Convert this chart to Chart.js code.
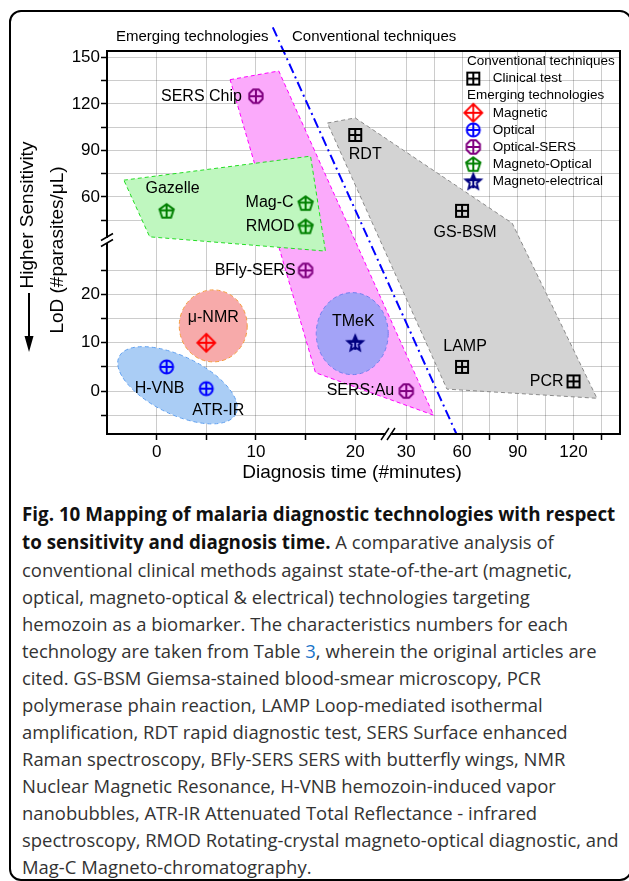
<!DOCTYPE html>
<html>
<head>
<meta charset="utf-8">
<script src="https://cdn.jsdelivr.net/npm/chart.js@4.4.0/dist/chart.umd.min.js"></script>
<style>
html, body { margin: 0; padding: 0; background: #fff; }
body { width: 629px; height: 881px; position: relative; overflow: hidden; }
#frame { position: absolute; left: 9px; top: 10px; width: 623px; height: 871px; box-sizing: border-box; border: 2px solid #000; border-radius: 12px; }
#mapChart { position: absolute; left: 0; top: 0; }
#caption { position: absolute; left: 22px; top: 500px; font-family: 'Open Sans', sans-serif; font-size: 18.45px; line-height: 27px; color: #333; white-space: nowrap; }
#caption b { color: #111; font-size: 18.8px; }
#caption .ref { color: #1a73c8; }
</style>
</head>
<body>
<div id="frame"></div>
<canvas id="mapChart" width="629" height="490"></canvas>
<div id="caption">
<b>Fig. 10 Mapping of malaria diagnostic technologies with respect</b><br>
<b>to sensitivity and diagnosis time.</b> A comparative analysis of<br>
conventional clinical methods against state-of-the-art (magnetic,<br>
optical, magneto-optical &amp; electrical) technologies targeting<br>
hemozoin as a biomarker. The characteristics numbers for each<br>
technology are taken from Table <span class="ref">3</span>, wherein the original articles are<br>
cited. GS-BSM Giemsa-stained blood-smear microscopy, PCR<br>
polymerase phain reaction, LAMP Loop-mediated isothermal<br>
amplification, RDT rapid diagnostic test, SERS Surface enhanced<br>
Raman spectroscopy, BFly-SERS SERS with butterfly wings, NMR<br>
Nuclear Magnetic Resonance, H-VNB hemozoin-induced vapor<br>
nanobubbles, ATR-IR Attenuated Total Reflectance - infrared<br>
spectroscopy, RMOD Rotating-crystal magneto-optical diagnostic, and<br>
Mag-C Magneto-chromatography.
</div>
<script>
// Datos (tiempo en minutos, LoD en parasitos/uL)
const xMajor = [0, 10, 20, 30, 60, 90, 120];
const xGrid = [0, 5, 10, 15, 20, 30, 45, 60, 75, 90, 105, 120, 135];
const yMajor = [0, 10, 20, 60, 90, 120, 150];
const yGrid = [-5, 0, 5, 10, 15, 20, 25, 45, 60, 75, 90, 105, 120, 135, 150];

const clinicalNames = ['RDT', 'GS-BSM', 'LAMP', 'PCR'];
const clinicalTime = [20, 60, 60, 120];
const clinicalLod = [100, 51, 5, 2];

const magneticNames = ['\u03bc-NMR'];
const magneticTime = [5];
const magneticLod = [10];

const opticalNames = ['H-VNB', 'ATR-IR'];
const opticalTime = [1, 5];
const opticalLod = [5, 0.5];

const sersNames = ['SERS Chip', 'BFly-SERS', 'SERS:Au'];
const sersTime = [10, 15, 30];
const sersLod = [125, 25, 0];

const magOptNames = ['Gazelle', 'Mag-C', 'RMOD'];
const magOptTime = [1, 15, 15];
const magOptLod = [51, 56, 41];

const magElecNames = ['TMeK'];
const magElecTime = [20];
const magElecLod = [10];

// zonas sombreadas (vertices)
const clinicalZoneTime = [17.2, 20.0, 87.0, 132.6, 51.9];
const clinicalZoneLod = [107.7, 111.0, 43.0, -1.5, 0.4];
const sersZoneTime = [7.4, 12.3, 44.7, 16.0];
const sersZoneLod = [135.7, 141.3, -5.0, 3.8];
const magOptZoneTime = [-3.3, 15.5, 17.0, -0.7];
const magOptZoneLod = [70.8, 86.3, 29.0, 34.2];

// elipses: centro
const blobNames = ['Optical', 'Magnetic', 'Magneto-electrical'];
const blobTime = [2.1, 5.7, 19.7];
const blobLod = [1.2, 13.5, 11.9];

// linea divisoria emergentes / convencionales
const dividerTime = [11.7, 56.9];
const dividerLod = [169.5, -8.8];

// ejes cortados
function toU(x) { return x <= 24 ? x : 25.14 + (x - 30) * 0.1872; }
function toV(y) { return y <= 30.9 ? y : 40.23 + (y - 60) * 0.3209; }

function pts(xs, ys, close) {
    const out = xs.map((x, i) => ({ x: toU(x), y: toV(ys[i]) }));
    if (close) out.push(out[0]);
    return out;
}

const FONT = "'Liberation Sans', Arial, sans-serif";

function makeMarker(kind, color) {
    const c = document.createElement('canvas');
    c.width = 22; c.height = 22;
    const g = c.getContext('2d');
    g.translate(11, 11);
    g.strokeStyle = color;
    g.lineWidth = 2;
    g.beginPath();
    if (kind === 'square') {
        g.rect(-6, -6, 12, 12);
        g.moveTo(0, -6); g.lineTo(0, 6); g.moveTo(-6, 0); g.lineTo(6, 0);
    } else if (kind === 'diamond') {
        g.lineWidth = 1.8;
        g.moveTo(0, -9); g.lineTo(9, 0); g.lineTo(0, 9); g.lineTo(-9, 0); g.closePath();
        g.moveTo(0, -9); g.lineTo(0, 9); g.moveTo(-9, 0); g.lineTo(9, 0);
    } else if (kind === 'circle') {
        g.arc(0, 0, 6.5, 0, Math.PI * 2);
        g.moveTo(0, -6.5); g.lineTo(0, 6.5); g.moveTo(-6.5, 0); g.lineTo(6.5, 0);
    } else if (kind === 'octagon') {
        for (let k = 0; k < 8; k++) {
            const a = Math.PI / 8 + k * Math.PI / 4;
            const px = 7.2 * Math.cos(a), py = 7.2 * Math.sin(a);
            if (k === 0) g.moveTo(px, py); else g.lineTo(px, py);
        }
        g.closePath();
        g.moveTo(0, -6.8); g.lineTo(0, 6.8); g.moveTo(-6.8, 0); g.lineTo(6.8, 0);
    } else if (kind === 'pentagon') {
        for (let k = 0; k < 5; k++) {
            const a = -Math.PI / 2 + k * 2 * Math.PI / 5;
            const px = 7.5 * Math.cos(a), py = 7.5 * Math.sin(a) + 0.8;
            if (k === 0) g.moveTo(px, py); else g.lineTo(px, py);
        }
        g.closePath();
        g.moveTo(0, -6.7); g.lineTo(0, 6.9); g.moveTo(-7.1, -0.5); g.lineTo(7.1, -0.5);
    } else if (kind === 'star') {
        for (let k = 0; k < 10; k++) {
            const r = k % 2 ? 3.6 : 8;
            const a = -Math.PI / 2 + k * Math.PI / 5;
            const px = r * Math.cos(a), py = r * Math.sin(a) + 0.8;
            if (k === 0) g.moveTo(px, py); else g.lineTo(px, py);
        }
        g.closePath();
        g.moveTo(0, -7); g.lineTo(0, 7); g.moveTo(-7, -1); g.lineTo(7, -1);
    }
    g.stroke();
    return c;
}

// posicion de cada etiqueta respecto a su marcador
const labelPos = {
    'RDT': [10, 20, 'center'], 'GS-BSM': [3, 22, 'center'], 'LAMP': [3, -20, 'center'],
    'PCR': [-10, 0, 'right'], '\u03bc-NMR': [7, -25, 'center'], 'H-VNB': [-7, 22, 'center'],
    'ATR-IR': [12, 22, 'center'], 'SERS Chip': [-14, 0, 'right'], 'BFly-SERS': [-10, 0, 'right'],
    'SERS:Au': [-12, 0, 'right'], 'Gazelle': [6, -22, 'center'], 'Mag-C': [-12, 0, 'right'],
    'RMOD': [-11, 0, 'right'], 'TMeK': [-2, -21, 'center']
};

// estilo de las elipses: semiejes en px, giro, color
const blobStyle = {
    'Optical': { a: 65, b: 29, rot: 26, fill: '#aacdf5', stroke: '#5fa0f0' },
    'Magnetic': { a: 34, b: 36, rot: 0, fill: '#f7aaaa', stroke: '#f59a3c' },
    'Magneto-electrical': { a: 36, b: 41, rot: 0, fill: '#a3a3f7', stroke: '#6f7ff0' }
};

function markerSet(label, names, xs, ys, kind, color) {
    return {
        label: label, names: names, isMarker: true,
        data: pts(xs, ys, false),
        showLine: false,
        pointStyle: makeMarker(kind, color),
        pointRadius: 8,
        order: 1
    };
}

function zoneSet(label, xs, ys, fill, stroke, order) {
    return {
        label: label, data: pts(xs, ys, true),
        showLine: true, fill: 'shape', backgroundColor: fill,
        borderColor: stroke, borderWidth: 1, borderDash: [4, 3],
        pointRadius: 0, tension: 0, order: order
    };
}

const legendRows = [
    { text: 'Conventional techniques' },
    { set: 0 },
    { text: 'Emerging technologies' },
    { set: 1 }, { set: 2 }, { set: 3 }, { set: 4 }, { set: 5 }
];

const extras = {
    id: 'extras',
    beforeDatasetDraw(chart, args) {
        const ds = chart.data.datasets[args.index];
        if (ds.label !== 'divider') return;
        const ctx = chart.ctx, xs = chart.scales.x, ys = chart.scales.y;
        ctx.save();
        blobNames.forEach((n, i) => {
            const st = blobStyle[n];
            const cx = xs.getPixelForValue(toU(blobTime[i]));
            const cy = ys.getPixelForValue(toV(blobLod[i]));
            ctx.beginPath();
            ctx.ellipse(cx, cy, st.a, st.b, st.rot * Math.PI / 180, 0, Math.PI * 2);
            ctx.fillStyle = st.fill;
            ctx.fill();
            ctx.setLineDash([4, 3]);
            ctx.lineWidth = 1;
            ctx.strokeStyle = st.stroke;
            ctx.stroke();
        });
        ctx.restore();
    },
    afterDraw(chart) {
        const ctx = chart.ctx, a = chart.chartArea;
        ctx.save();
        // marco
        ctx.strokeStyle = '#000';
        ctx.lineWidth = 2;
        ctx.strokeRect(a.left, a.top, a.right - a.left, a.bottom - a.top);

        // cortes de eje
        const yb = 240, xb = 388;
        ctx.fillStyle = '#fff';
        ctx.fillRect(a.left - 3, yb - 2, 6, 5);
        ctx.fillRect(xb - 2.5, a.bottom - 3, 5, 6);
        ctx.lineWidth = 1.5;
        ctx.beginPath();
        [-3, 3].forEach(d => {
            ctx.moveTo(a.left - 6, yb + d + 3.5); ctx.lineTo(a.left + 6, yb + d - 3.5);
            ctx.moveTo(xb + d - 4, a.bottom + 6); ctx.lineTo(xb + d + 4, a.bottom - 6);
        });
        ctx.stroke();

        // textos de cabecera y titulos
        ctx.fillStyle = '#000';
        ctx.textBaseline = 'middle';
        ctx.font = '15px ' + FONT;
        ctx.textAlign = 'left';
        ctx.fillText('Emerging technologies', 116, 37);
        ctx.fillText('Conventional techniques', 292, 37);

        ctx.font = '19px ' + FONT;
        ctx.textAlign = 'center';
        ctx.fillText('Diagnosis time (#minutes)', 352, 473);
        ctx.save();
        ctx.translate(58, 250);
        ctx.rotate(-Math.PI / 2);
        ctx.fillText('LoD (#parasites/\u03bcL)', 0, 0);
        ctx.restore();
        ctx.save();
        ctx.translate(28, 215);
        ctx.rotate(-Math.PI / 2);
        ctx.fillText('Higher Sensitivity', 0, 0);
        ctx.restore();
        // flecha
        ctx.lineWidth = 2;
        ctx.beginPath();
        ctx.moveTo(29, 293); ctx.lineTo(29, 340);
        ctx.stroke();
        ctx.beginPath();
        ctx.moveTo(24.5, 336); ctx.lineTo(33.5, 336); ctx.lineTo(29, 352); ctx.closePath();
        ctx.fill();

        // etiquetas de puntos
        ctx.font = '16px ' + FONT;
        chart.data.datasets.forEach((ds, i) => {
            if (!ds.isMarker) return;
            const meta = chart.getDatasetMeta(i);
            meta.data.forEach((pt, j) => {
                const n = ds.names[j];
                const p = labelPos[n];
                ctx.textAlign = p[2];
                ctx.fillText(n, pt.x + p[0], pt.y + p[1]);
            });
        });

        // leyenda
        const lx = a.right - 153, ly = a.top + 10.5;
        ctx.font = '13.5px ' + FONT;
        ctx.textAlign = 'left';
        legendRows.forEach((r, k) => {
            const y = ly + k * 17.1;
            if (r.text) {
                ctx.fillText(r.text, lx, y);
            } else {
                const ds = chart.data.datasets[r.set];
                ctx.drawImage(ds.pointStyle, lx + 6.3 - 11, y - 11);
                ctx.fillText(ds.label, lx + 25.7, y);
            }
        });
        ctx.restore();
    }
};

const tickFont = { family: FONT, size: 17 };

new Chart(document.getElementById('mapChart'), {
    type: 'line',
    data: {
        datasets: [
            markerSet('Clinical test', clinicalNames, clinicalTime, clinicalLod, 'square', '#000000'),
            markerSet('Magnetic', magneticNames, magneticTime, magneticLod, 'diamond', '#ff0000'),
            markerSet('Optical', opticalNames, opticalTime, opticalLod, 'circle', '#0000ff'),
            markerSet('Optical-SERS', sersNames, sersTime, sersLod, 'octagon', '#800080'),
            markerSet('Magneto-Optical', magOptNames, magOptTime, magOptLod, 'pentagon', '#008000'),
            markerSet('Magneto-electrical', magElecNames, magElecTime, magElecLod, 'star', '#000080'),
            {
                label: 'divider', data: pts(dividerTime, dividerLod, false),
                borderColor: '#0000ff', borderWidth: 2, borderDash: [10, 4, 2, 4],
                pointRadius: 0, fill: false, clip: false, order: 2
            },
            zoneSet('Magneto-Optical zone', magOptZoneTime, magOptZoneLod, '#bff7bf', '#22dd22', 3),
            zoneSet('Optical-SERS zone', sersZoneTime, sersZoneLod, '#fbaafb', '#ff00ff', 4),
            zoneSet('Clinical zone', clinicalZoneTime, clinicalZoneLod, '#d3d3d3', '#8a8a8a', 5)
        ]
    },
    options: {
        responsive: false,
        animation: false,
        events: [],
        layout: { padding: { left: 0, top: 51, right: 9, bottom: 0 } },
        plugins: { legend: { display: false }, tooltip: { enabled: false } },
        scales: {
            x: {
                type: 'linear', min: -5, max: toU(145), z: 1,
                afterBuildTicks: s => { s.ticks = xGrid.map(v => ({ value: toU(v) })); },
                afterFit: s => { s.height = 56; },
                ticks: {
                    autoSkip: false, maxRotation: 0, padding: 2, color: '#000', font: tickFont,
                    callback: (v, i) => xMajor.includes(xGrid[i]) ? String(xGrid[i]) : ''
                },
                grid: { color: 'rgba(0,0,0,0.2)', lineWidth: 1, tickLength: 6, tickColor: '#000', tickWidth: 1.5 },
                border: { color: '#000', width: 2 }
            },
            y: {
                type: 'linear', min: -8.9, max: 70.46, z: 1,
                afterBuildTicks: s => { s.ticks = yGrid.map(v => ({ value: toV(v) })); },
                afterFit: s => { s.width = 107; },
                ticks: {
                    autoSkip: false, padding: 1, color: '#000', font: tickFont,
                    callback: (v, i) => yMajor.includes(yGrid[i]) ? String(yGrid[i]) : ''
                },
                grid: { color: 'rgba(0,0,0,0.2)', lineWidth: 1, tickLength: 6, tickColor: '#000', tickWidth: 1.5 },
                border: { color: '#000', width: 2 }
            }
        }
    },
    plugins: [extras]
});
</script>
</body>
</html>
